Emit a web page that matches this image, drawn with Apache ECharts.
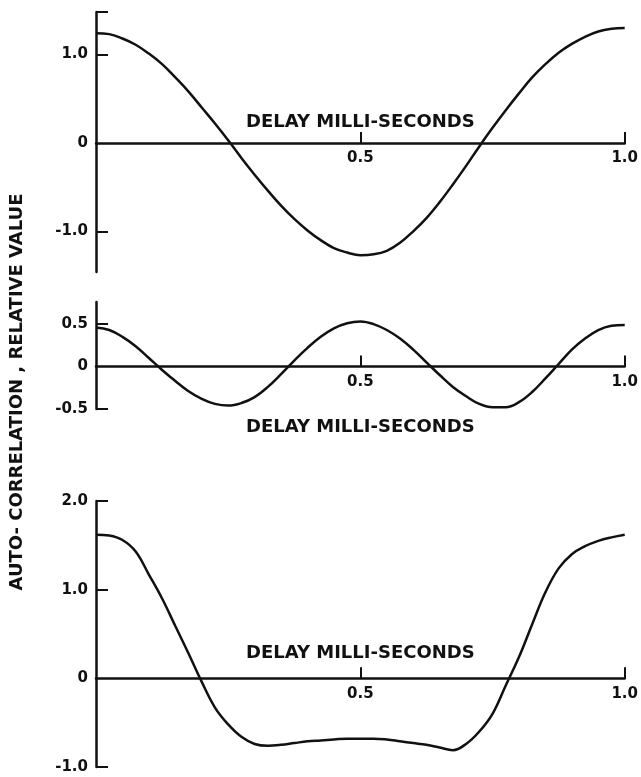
<!DOCTYPE html>
<html>
<head>
<meta charset="utf-8">
<script src="https://cdn.jsdelivr.net/npm/echarts@6/dist/echarts.min.js"></script>
<style>
  html, body { margin: 0; padding: 0; background: #fff; }
  #chart { width: 641px; height: 777px; }
</style>
</head>
<body>
<div id="chart"></div>
<script>
// delay in ms, shared by the three panels
const delay = [0, 0.025, 0.05, 0.075, 0.1, 0.125, 0.15, 0.175, 0.2, 0.225, 0.25, 0.275, 0.3, 0.325, 0.35, 0.375, 0.4, 0.425, 0.45, 0.475, 0.5,
  0.525, 0.55, 0.575, 0.6, 0.625, 0.65, 0.675, 0.7, 0.725, 0.75, 0.775, 0.8, 0.825, 0.85, 0.875, 0.9, 0.925, 0.95, 0.975, 1.0];

// auto-correlation (relative value)
const corr1 = [1.24, 1.23, 1.18, 1.11, 1.01, 0.89, 0.74, 0.58, 0.40, 0.22, 0.03, -0.17, -0.36, -0.54, -0.71, -0.86, -0.99, -1.10, -1.19, -1.24, -1.27,
  -1.26, -1.22, -1.13, -1.00, -0.85, -0.67, -0.47, -0.26, -0.04, 0.17, 0.37, 0.56, 0.74, 0.89, 1.02, 1.12, 1.20, 1.26, 1.29, 1.30];
const corr2 = [0.46, 0.43, 0.35, 0.24, 0.10, -0.04, -0.17, -0.29, -0.38, -0.44, -0.46, -0.43, -0.36, -0.24, -0.09, 0.07, 0.22, 0.35, 0.45, 0.51, 0.53,
  0.50, 0.43, 0.33, 0.20, 0.05, -0.10, -0.24, -0.35, -0.44, -0.48, -0.48, -0.42, -0.30, -0.14, 0.03, 0.20, 0.33, 0.43, 0.48, 0.49];
const corr3 = [1.62, 1.61, 1.56, 1.43, 1.17, 0.90, 0.59, 0.28, -0.04, -0.33, -0.52, -0.66, -0.74, -0.76, -0.75, -0.73, -0.71, -0.70, -0.69, -0.68, -0.68,
  -0.68, -0.69, -0.71, -0.73, -0.75, -0.78, -0.81, -0.74, -0.60, -0.40, -0.08, 0.24, 0.61, 0.97, 1.24, 1.40, 1.49, 1.55, 1.59, 1.62];

const xLabels = [0.5, 1.0];
const yLabels1 = [-1.0, 0, 1.0];
const yLabels2 = [-0.5, 0, 0.5];
const yLabels3 = [-1.0, 0, 1.0, 2.0];
const xName = 'DELAY MILLI-SECONDS';
const yName = 'AUTO- CORRELATION , RELATIVE VALUE';

const ink = '#111';
const font = 'DejaVu Sans';

const myChart = echarts.init(document.getElementById('chart'));

const pairs = (xs, ys) => xs.map((x, i) => [x, ys[i]]);

// x axis drawn on the zero line: shift it up from the grid bottom with a negative offset
const makeX = (idx, offset, gap) => ({
  type: 'value',
  gridIndex: idx,
  min: 0,
  max: 1,
  offset: offset,
  name: xName,
  nameLocation: 'middle',
  nameGap: gap,
  nameMoveOverlap: false,
  nameTextStyle: { color: ink, fontFamily: font, fontSize: 18, fontWeight: 'bold' },
  axisLine: { onZero: false, lineStyle: { color: ink, width: 2.5 } },
  axisTick: { inside: true, length: 11, customValues: xLabels, lineStyle: { color: ink, width: 2 } },
  axisLabel: {
    customValues: xLabels,
    margin: 8,
    color: ink, fontFamily: font, fontSize: 15, fontWeight: 'bold',
    formatter: (v) => v.toFixed(1)
  },
  splitLine: { show: false }
});

const makeY = (idx, min, max, labels, ticks) => ({
  type: 'value',
  gridIndex: idx,
  min: min,
  max: max,
  axisLine: { show: true, onZero: false, lineStyle: { color: ink, width: 2.5 } },
  axisTick: { show: true, inside: true, length: 12, customValues: ticks, lineStyle: { color: ink, width: 2 } },
  axisLabel: {
    customValues: labels,
    margin: 8,
    color: ink, fontFamily: font, fontSize: 15, fontWeight: 'bold',
    formatter: (v) => (v === 0 ? '0' : v.toFixed(1))
  },
  splitLine: { show: false }
});

const lineSeries = (idx, ys) => ({
  type: 'line',
  xAxisIndex: idx,
  yAxisIndex: idx,
  data: pairs(delay, ys),
  smooth: 0.4,
  symbol: 'none',
  lineStyle: { color: ink, width: 2.5 }
});

const option = {
  backgroundColor: '#fff',
  animation: false,
  grid: [
    { left: 96, right: 10, top: 12, height: 260 },
    { left: 96, right: 10, top: 302, height: 107 },
    { left: 96, right: 10, top: 501, height: 266 }
  ],
  xAxis: [makeX(0, -129.1, -30), makeX(1, -42.5, 52), makeX(2, -88.7, -34)],
  yAxis: [
    makeY(0, -1.46, 1.48, yLabels1, [-1.0, 1.0, 1.48]),
    makeY(1, -0.5, 0.76, yLabels2, [-0.5, 0.5]),
    makeY(2, -1.0, 2.0, yLabels3, [-1.0, 1.0, 2.0])
  ],
  series: [
    lineSeries(0, corr1),
    lineSeries(1, corr2),
    lineSeries(2, corr3)
  ],
  graphic: [
    {
      type: 'text',
      x: 17,
      y: 392,
      rotation: Math.PI / 2,
      style: {
        text: yName,
        fill: ink,
        font: 'bold 18px "DejaVu Sans"',
        textAlign: 'center',
        textVerticalAlign: 'middle'
      }
    }
  ]
};

option && myChart.setOption(option);
</script>
</body>
</html>
